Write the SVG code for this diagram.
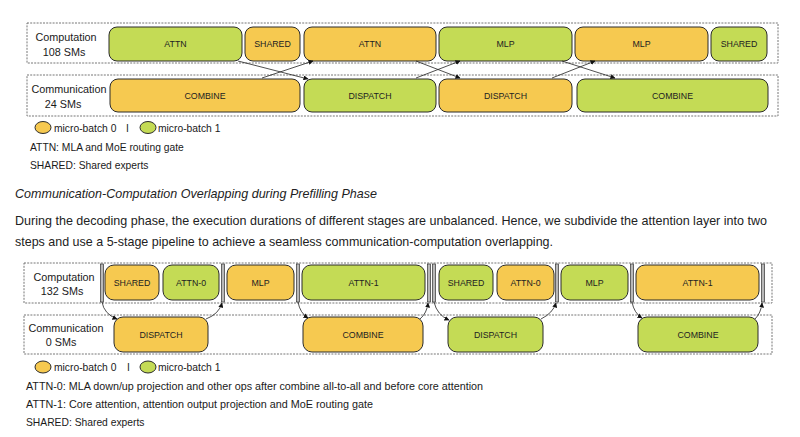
<svg xmlns="http://www.w3.org/2000/svg" width="800" height="437" viewBox="0 0 800 437">
<style>
  text { font-family: "Liberation Sans", Arial, sans-serif; fill: #1a1a1a; }
  .frame { fill: none; stroke: #777; stroke-width: 1; stroke-dasharray: 2 1.2; }
  .y { fill: #F6C950; stroke: #2b2b2b; stroke-width: 1; }
  .g { fill: #C4DB55; stroke: #2b2b2b; stroke-width: 1; }
  .nl { font-size: 8.8px; text-anchor: middle; fill: #222; }
  .lab { font-size: 10.8px; text-anchor: middle; }
  .txt { font-size: 10.3px; }
  .para { font-size: 12.2px; fill: #222; }
  .bar { fill: #b8b8b8; stroke: #333; stroke-width: 0.7; }
  .arr { fill: none; stroke: #222; stroke-width: 0.8; marker-end: url(#ah); }
</style>
<defs>
  <marker id="ah" viewBox="0 0 10 10" refX="9" refY="5" markerWidth="5" markerHeight="5" orient="auto" markerUnits="userSpaceOnUse">
    <path d="M0,0 L10,5 L0,10 z" fill="#111"/>
  </marker>
</defs>
<rect width="800" height="437" fill="#fff"/>

<!-- ===== Top diagram (prefilling) ===== -->
<g id="top-frames">
  <rect class="frame" x="27" y="23" width="751" height="40"/>
  <rect class="frame" x="27" y="75" width="751" height="41"/>
  <text class="lab" x="66" y="41">Computation</text>
  <text class="lab" x="64" y="56">108 SMs</text>
  <text class="lab" x="69" y="93">Communication</text>
  <text class="lab" x="63" y="108">24 SMs</text>
</g>
<g id="t-attn-1"><rect class="g" x="109" y="27" width="133" height="34" rx="8"/><text class="nl" x="175.5" y="47">ATTN</text></g>
<g id="t-shared-0"><rect class="y" x="245" y="27" width="55" height="34" rx="8"/><text class="nl" x="272.5" y="47">SHARED</text></g>
<g id="t-attn-0"><rect class="y" x="304" y="27" width="132" height="34" rx="8"/><text class="nl" x="370" y="47">ATTN</text></g>
<g id="t-mlp-1"><rect class="g" x="439" y="27" width="133" height="34" rx="8"/><text class="nl" x="505.5" y="47">MLP</text></g>
<g id="t-mlp-0"><rect class="y" x="575" y="27" width="133" height="34" rx="8"/><text class="nl" x="641.5" y="47">MLP</text></g>
<g id="t-shared-1"><rect class="g" x="711" y="27" width="56" height="34" rx="8"/><text class="nl" x="739" y="47">SHARED</text></g>
<g id="t-combine-0"><rect class="y" x="110" y="79" width="190" height="33" rx="8"/><text class="nl" x="205" y="99">COMBINE</text></g>
<g id="t-dispatch-1"><rect class="g" x="304" y="79" width="132" height="33" rx="8"/><text class="nl" x="370" y="99">DISPATCH</text></g>
<g id="t-dispatch-0"><rect class="y" x="439" y="79" width="133" height="33" rx="8"/><text class="nl" x="505.5" y="99">DISPATCH</text></g>
<g id="t-combine-1"><rect class="g" x="577" y="79" width="191" height="33" rx="8"/><text class="nl" x="672.5" y="99">COMBINE</text></g>

<g id="top-connectors">
  <path class="arr" d="M238,61 L308,79"/>
  <path class="arr" d="M262,78 L313,61"/>
  <path class="arr" d="M416,61 L460,78"/>
  <path class="arr" d="M416,78 L460,61"/>
  <path class="arr" d="M562,61 L615,78"/>
  <path class="arr" d="M552,78 L595,61"/>
</g>

<g id="top-legend">
  <ellipse class="y" cx="43" cy="127.5" rx="8" ry="6"/>
  <text class="txt" x="54" y="131.5" font-size="10.8">micro-batch 0</text>
  <text class="txt" x="126" y="131.5" font-size="10.8">I</text>
  <ellipse class="g" cx="148" cy="127.5" rx="8" ry="6"/>
  <text class="txt" x="158" y="131.5" font-size="10.8">micro-batch 1</text>
  <text class="txt" x="30" y="151">ATTN: MLA and MoE routing gate</text>
  <text class="txt" x="30" y="169">SHARED: Shared experts</text>
</g>

<!-- ===== Prose ===== -->
<g id="prose">
  <text class="para" x="15" y="198" font-style="italic" textLength="362" lengthAdjust="spacingAndGlyphs">Communication-Computation Overlapping during Prefilling Phase</text>
  <text class="para" x="15" y="225" textLength="752" lengthAdjust="spacingAndGlyphs">During the decoding phase, the execution durations of different stages are unbalanced. Hence, we subdivide the attention layer into two</text>
  <text class="para" x="15" y="246" textLength="538" lengthAdjust="spacingAndGlyphs">steps and use a 5-stage pipeline to achieve a seamless communication-computation overlapping.</text>
</g>

<!-- ===== Bottom diagram (decoding) ===== -->
<g id="bottom-frames">
  <rect class="frame" x="24" y="263" width="748" height="40"/>
  <rect class="frame" x="24" y="315" width="748" height="39"/>
  <text class="lab" x="64" y="281">Computation</text>
  <text class="lab" x="62" y="295">132 SMs</text>
  <text class="lab" x="66" y="332">Communication</text>
  <text class="lab" x="61" y="346">0 SMs</text>
</g>
<g id="bars">
  <rect class="bar" x="100.5" y="264" width="3" height="38"/>
  <rect class="bar" x="221.5" y="264" width="3" height="38"/>
  <rect class="bar" x="296.5" y="264" width="3" height="38"/>
  <rect class="bar" x="427.5" y="264" width="3" height="38"/>
  <rect class="bar" x="432.5" y="264" width="3" height="38"/>
  <rect class="bar" x="555.5" y="264" width="3" height="38"/>
  <rect class="bar" x="630.5" y="264" width="3" height="38"/>
  <rect class="bar" x="761.5" y="264" width="3" height="38"/>
</g>
<g id="b-shared-0"><rect class="y" x="105" y="265" width="54" height="35" rx="9"/><text class="nl" x="132" y="285.5">SHARED</text></g>
<g id="b-attn0-1"><rect class="g" x="163" y="265" width="56" height="35" rx="9"/><text class="nl" x="191" y="285.5">ATTN-0</text></g>
<g id="b-mlp-0"><rect class="y" x="227" y="265" width="67" height="35" rx="9"/><text class="nl" x="260.5" y="285.5">MLP</text></g>
<g id="b-attn1-1"><rect class="g" x="302" y="265" width="123" height="35" rx="9"/><text class="nl" x="363.5" y="285.5">ATTN-1</text></g>
<g id="b-shared-1"><rect class="g" x="439" y="265" width="54" height="35" rx="9"/><text class="nl" x="466" y="285.5">SHARED</text></g>
<g id="b-attn0-0"><rect class="y" x="497" y="265" width="57" height="35" rx="9"/><text class="nl" x="525.5" y="285.5">ATTN-0</text></g>
<g id="b-mlp-1"><rect class="g" x="561" y="265" width="67" height="35" rx="9"/><text class="nl" x="594.5" y="285.5">MLP</text></g>
<g id="b-attn1-0"><rect class="y" x="636" y="265" width="123" height="35" rx="9"/><text class="nl" x="697.5" y="285.5">ATTN-1</text></g>
<g id="b-dispatch-0"><rect class="y" x="114" y="317" width="94" height="35" rx="9"/><text class="nl" x="161" y="337.5">DISPATCH</text></g>
<g id="b-combine-0"><rect class="y" x="303" y="317" width="120" height="35" rx="9"/><text class="nl" x="363" y="337.5">COMBINE</text></g>
<g id="b-dispatch-1"><rect class="g" x="448" y="317" width="95" height="35" rx="9"/><text class="nl" x="495.5" y="337.5">DISPATCH</text></g>
<g id="b-combine-1"><rect class="g" x="638" y="317" width="120" height="35" rx="9"/><text class="nl" x="698" y="337.5">COMBINE</text></g>

<g id="bottom-connectors">
  <path class="arr" d="M102,302 Q104,314 117,319"/>
  <path class="arr" d="M206,319 Q219,314 222,303"/>
  <path class="arr" d="M298,302 Q300,313 308,318"/>
  <path class="arr" d="M420,319 Q427,313 428,303"/>
  <path class="arr" d="M434,302 Q437,315 449,320"/>
  <path class="arr" d="M541,319 Q553,313 556,303"/>
  <path class="arr" d="M632,302 Q634,313 642,318"/>
  <path class="arr" d="M755,319 Q761,313 762,303"/>
</g>

<g id="bottom-legend">
  <ellipse class="y" cx="43" cy="367" rx="8" ry="6"/>
  <text class="txt" x="54" y="371" font-size="10.8">micro-batch 0</text>
  <text class="txt" x="127" y="371" font-size="10.8">I</text>
  <ellipse class="g" cx="148" cy="367" rx="8" ry="6"/>
  <text class="txt" x="158" y="371" font-size="10.8">micro-batch 1</text>
  <text class="txt" x="26" y="390" textLength="457" lengthAdjust="spacingAndGlyphs">ATTN-0: MLA down/up projection and other ops after combine all-to-all and before core attention</text>
  <text class="txt" x="26" y="408" textLength="347" lengthAdjust="spacingAndGlyphs">ATTN-1: Core attention, attention output projection and MoE routing gate</text>
  <text class="txt" x="26" y="426">SHARED: Shared experts</text>
</g>
</svg>
